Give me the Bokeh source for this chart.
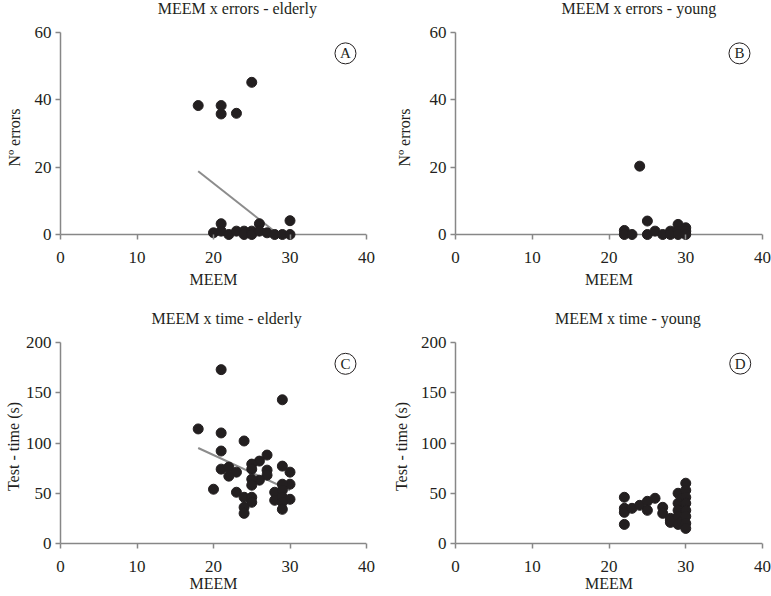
from bokeh.plotting import figure
from bokeh.layouts import column, row
from bokeh.models import FixedTicker, Range1d
from bokeh.embed import file_html
from bokeh.resources import INLINE

# ---- data ----
# A: MEEM x errors - elderly
eld_err_meem = [18, 21, 21, 23, 25, 20, 21, 21, 22, 23, 24, 24, 25, 25, 26, 26, 27, 28, 29, 30, 30]
eld_err_val = [38.3, 38.3, 35.8, 36.0, 45.2, 0.5, 3.2, 1.0, 0.0, 1.0, 1.0, 0.0, 1.0, 0.0, 3.2, 1.0, 0.5, 0.0, 0.0, 4.1, 0.0]
eld_err_trend_x = [18, 28.5]
eld_err_trend_y = [18.8, 0.0]

# B: MEEM x errors - young
yng_err_meem = [22, 22, 23, 24, 25, 25, 26, 27, 28, 28, 29, 29, 29, 30, 30, 30]
yng_err_val = [1.2, 0.0, 0.0, 20.3, 4.0, 0.0, 1.0, 0.0, 1.0, 0.0, 3.0, 1.0, 0.0, 2.0, 1.0, 0.0]

# C: MEEM x time - elderly
eld_time_meem = [21, 29, 18, 21, 24, 21, 27, 26, 25, 21, 22, 23, 25, 27, 29, 30, 22, 27, 26, 25,
                 30, 29, 25, 20, 23, 28, 29, 24, 25, 28, 29, 30, 25, 29, 24, 24, 29]
eld_time_val = [173, 143, 114, 110, 102, 92, 88, 82, 79, 74, 76, 71, 74, 73, 77, 71, 67, 68, 63, 64,
                59, 59, 58, 54, 51, 51, 53, 46, 46, 43, 46, 44, 41, 41, 36, 30, 34]
eld_time_trend_x = [18, 30]
eld_time_trend_y = [95, 53]

# D: MEEM x time - young
yng_time_meem = [22, 22, 22, 22, 23, 24, 25, 25, 26, 27, 27, 28, 28, 28, 29, 29, 29, 29, 29,
                 29.5, 29.5, 30, 30, 30, 30, 30, 30, 30, 30]
yng_time_val = [46, 35, 31, 19, 35, 38, 42, 33, 45, 36, 30, 25, 21, 23, 50, 40, 33, 27, 19,
                45, 22, 60, 53, 46, 40, 33, 27, 20, 15]

titles = ["MEEM x errors - elderly", "MEEM x errors - young",
          "MEEM x time - elderly", "MEEM x time - young"]
x_ticks = [0, 10, 20, 30, 40]
err_ticks = [0, 20, 40, 60]
time_ticks = [0, 50, 100, 150, 200]

FONT = "Liberation Serif"
INK = "#231f20"
AXIS = "#878787"


def title_strip(text, width, height, cx, cy):
    """A blank strip that carries the panel title at a chosen pixel spot."""
    t = figure(width=width, height=height, output_backend="svg", toolbar_location=None,
               x_range=Range1d(0, width), y_range=Range1d(0, height),
               x_axis_type=None, y_axis_type=None, min_border=0)
    t.xgrid.visible = False
    t.ygrid.visible = False
    t.outline_line_color = None
    t.text([cx], [height - cy], text=[text], text_align="center", text_baseline="middle",
           text_font={"value": FONT}, text_font_size="16px", text_color=INK)
    return t


def panel(ylabel, xs, ys, tx, ty, yticks, letter, lx, ly,
          width, height, left, right, top, bottom, axis_px, pad_px,
          ylab_standoff, xtick_standoff, xlab_standoff):
    ymax = yticks[-1]
    pad = pad_px * ymax / axis_px
    p = figure(width=width, height=height, output_backend="svg", toolbar_location=None,
               x_range=Range1d(0, 40), y_range=Range1d(-pad, ymax),
               min_border_left=left, min_border_right=right,
               min_border_top=top, min_border_bottom=bottom)
    p.xgrid.visible = False
    p.ygrid.visible = False
    p.outline_line_color = None
    p.background_fill_color = "white"
    p.border_fill_color = "white"

    p.yaxis.bounds = (0, ymax)
    p.xaxis.ticker = FixedTicker(ticks=x_ticks)
    p.yaxis.ticker = FixedTicker(ticks=yticks)
    p.xaxis.axis_label = "MEEM"
    p.yaxis.axis_label = ylabel
    for ax in (p.xaxis, p.yaxis):
        ax.axis_line_color = AXIS
        ax.axis_line_width = 1.5
        ax.major_tick_line_color = AXIS
        ax.major_tick_line_width = 1.5
        ax.minor_tick_line_color = None
        ax.major_label_text_font = FONT
        ax.major_label_text_font_size = "17px"
        ax.major_label_text_color = INK
        ax.axis_label_text_font = FONT
        ax.axis_label_text_font_size = "16px"
        ax.axis_label_text_font_style = "normal"
        ax.axis_label_text_color = INK
    # y axis: ordinary, at the frame's left edge
    p.yaxis.major_tick_in = 0
    p.yaxis.major_tick_out = 5
    p.yaxis.minor_tick_in = 0
    p.yaxis.minor_tick_out = 0
    p.yaxis.major_label_standoff = 4
    p.yaxis.axis_label_standoff = ylab_standoff
    # x axis: the frame reaches a little below 0 so the dots at 0 are whole;
    # ticks are moved up to the zero line and the line itself is drawn at y=0
    p.xaxis.axis_line_color = None
    p.xaxis.major_tick_in = pad_px
    p.xaxis.major_tick_out = 5 - pad_px
    p.xaxis.minor_tick_in = 0
    p.xaxis.minor_tick_out = 5 - pad_px
    p.xaxis.major_label_standoff = xtick_standoff
    p.xaxis.axis_label_standoff = xlab_standoff

    p.segment(x0=[0], y0=[0], x1=[40], y1=[0], line_color=AXIS, line_width=1.5)
    if tx is not None:
        p.line(tx, ty, line_color="#8c8c8c", line_width=2)
    p.scatter(xs, ys, size=10, fill_color=INK, line_color=INK)

    p.scatter([lx], [ly], size=21, fill_color=None, line_color=INK, line_width=1)
    p.text([lx], [ly], text=[letter], text_align="center", text_baseline="middle",
           text_font={"value": FONT}, text_font_size="15px", text_color=INK)
    return p


tA = title_strip(titles[0], 385, 18, 222.5, 8.0)
tB = title_strip(titles[1], 386, 18, 230.5, 8.0)
tC = title_strip(titles[2], 385, 40, 209.0, 28.0)
tD = title_strip(titles[3], 386, 40, 216.7, 28.0)

pA = panel("Nº errors", eld_err_meem, eld_err_val,
           eld_err_trend_x, eld_err_trend_y, err_ticks, "A", 37.25, 53.8,
           385, 272, 60, 19, 14, 48, 202, 8, 9, 9, 5)
pB = panel("Nº errors", yng_err_meem, yng_err_val,
           None, None, err_ticks, "B", 37.0, 53.8,
           386, 272, 70, 9, 14, 48, 202, 8, 14, 9, 5)
pC = panel("Test - time (s)", eld_time_meem, eld_time_val,
           eld_time_trend_x, eld_time_trend_y, time_ticks, "C", 37.25, 178.8,
           385, 266, 60, 19, 12, 46, 201, 7, 1, 10, 0)
pD = panel("Test - time (s)", yng_time_meem, yng_time_val,
           None, None, time_ticks, "D", 37.1, 179,
           386, 266, 70, 9, 12, 46, 201, 7, 8, 10, 0)

page = column(row(column(tA, pA), column(tB, pB)),
              row(column(tC, pC), column(tD, pD)))
open("out.html", "w").write(file_html(page, INLINE))
